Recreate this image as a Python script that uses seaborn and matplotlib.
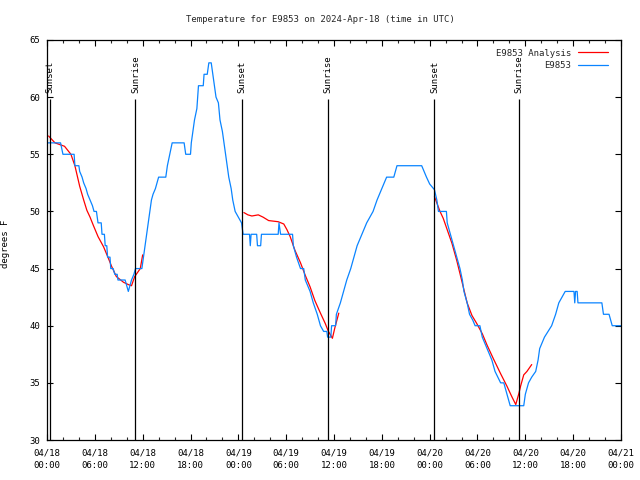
import numpy as np
import pandas as pd
import matplotlib
matplotlib.use("Agg")
import matplotlib.pyplot as plt
from matplotlib.ticker import MultipleLocator
import seaborn as sns

# Hours since 2024-04-18 00:00 UTC and observed temperature (deg F)
obs_hours = [0, 1.7, 2.0, 3.4, 3.5, 4.0, 4.1, 4.4, 4.6, 4.9, 5.1, 5.4, 5.7, 5.9, 6.2, 6.4, 6.8,
             6.9, 7.2, 7.3, 7.5, 7.6, 7.9, 8.0, 8.3, 8.5, 8.8, 8.9, 9.8, 10.0, 10.2, 10.4, 10.6,
             10.9, 11.1, 11.9, 12.1, 12.3, 12.5, 12.7, 12.9, 13.1, 13.3, 13.6, 14.0, 14.9, 15.1,
             15.4, 15.7, 17.2, 17.4, 18.0, 18.1, 18.3, 18.5, 18.8, 19.0, 19.6, 19.7, 20.1, 20.3,
             20.6, 20.8, 21.0, 21.2, 21.5, 21.7, 22.0, 22.2, 22.4, 22.6, 22.8, 23.1, 23.3, 23.6,
             24.0, 24.4, 24.6, 25.4, 25.5, 25.6, 26.3, 26.4, 26.8, 26.9, 29.0, 29.1, 29.3, 30.8,
             30.9, 31.3, 31.8, 32.2, 32.4, 33.0, 33.4, 33.9, 34.3, 34.7, 35.1, 35.2, 35.6, 35.7,
             36.2, 36.3, 36.8, 37.2, 37.6, 38.1, 38.5, 38.9, 39.5, 40.1, 40.9, 41.4, 42.0, 42.6,
             43.5, 43.9, 47.0, 47.6, 48.0, 48.6, 48.9, 49.1, 50.1, 50.2, 50.6, 51.0, 51.4, 51.8,
             52.1, 52.3, 52.7, 53.0, 53.4, 53.7, 54.3, 54.6, 55.2, 55.8, 56.2, 56.9, 57.3, 57.7,
             58.1, 59.8, 60.0, 60.4, 60.8, 61.3, 61.6, 61.8, 62.4, 63.3, 63.8, 64.2, 65.0, 66.1,
             66.2, 66.3, 66.5, 66.6, 69.6, 69.8, 70.5, 70.9, 72.0]
obs_temp = [56, 56, 55, 55, 54, 54, 53.5, 53, 52.5, 52, 51.5, 51, 50.5, 50, 50, 49, 49,
            48, 48, 47, 47, 46, 46, 45, 45, 44.5, 44.5, 44, 44, 43.5, 43, 43.5, 44,
            44.5, 45, 45, 46, 47, 48, 49, 50, 51, 51.5, 52, 53, 53, 54,
            55, 56, 56, 55, 55, 56, 57, 58, 59, 61, 61, 62, 62, 63,
            63, 62, 61, 60, 59.5, 58, 57, 56, 55, 54, 53, 52, 51, 50,
            49.5, 49, 48, 48, 47, 48, 48, 47, 47, 48, 48, 49, 48, 48,
            47, 46, 45, 45, 44, 43, 42, 41, 40, 39.5, 39.5, 39, 39, 40,
            40, 41, 42, 43, 44, 45, 46, 47, 48, 49, 50, 51, 52, 53,
            53, 54, 54, 53, 52.4, 51.9, 51, 50, 50, 49, 48, 47, 46, 45,
            44, 43, 42, 41, 40.5, 40, 40, 39, 38, 37, 36, 35, 35, 34,
            33, 33, 34, 35, 35.5, 36, 37, 38, 39, 40, 41, 42, 43, 43,
            42, 43, 43, 42, 42, 41, 41, 40, 40]

# Analysis runs (three separate pieces)
ana_hours_1 = [0.2, 1.0, 2.2, 3.0, 3.5, 4.1, 4.6, 5.0, 5.4, 5.8, 6.4, 7.1, 7.7, 8.1, 8.7,
               9.6, 10.2, 10.6, 11.0, 11.7, 12.0]
ana_temp_1 = [56.6, 56.0, 55.7, 55.0, 54.0, 52.2, 51.0, 50.1, 49.5, 48.8, 47.8, 46.9, 45.9,
              45.2, 44.3, 43.8, 43.6, 43.5, 44.3, 45.0, 46.2]
ana_hours_2 = [24.7, 25.2, 25.7, 26.5, 27.1, 27.8, 29.0, 29.7, 30.1, 30.5, 31.1, 31.8, 32.4,
               33.0, 33.6, 34.3, 34.9, 35.3, 35.8, 36.1, 36.6]
ana_temp_2 = [49.9, 49.7, 49.6, 49.7, 49.5, 49.2, 49.1, 48.9, 48.4, 47.8, 46.6, 45.5, 44.4,
              43.4, 42.2, 41.1, 40.2, 39.5, 38.9, 39.8, 41.1]
ana_hours_3 = [48.6, 49.3, 49.7, 50.2, 50.8, 51.4, 52.0, 52.7, 53.3, 53.9, 54.6, 55.2, 56.0,
               56.9, 57.7, 58.3, 58.8, 59.2, 59.4, 59.8, 60.2, 60.8]
ana_temp_3 = [51.3, 50.0, 49.4, 48.4, 47.2, 45.7, 44.0, 42.0, 40.9, 40.2, 39.3, 38.3, 37.1,
              35.8, 34.7, 33.8, 33.1, 34.1, 34.7, 35.7, 36.0, 36.6]

# Sunset / sunrise markers
event_hours = [0.42, 11.1, 24.5, 35.2, 48.6, 59.2]
event_labels = ["Sunset", "Sunrise", "Sunset", "Sunrise", "Sunset", "Sunrise"]

x_tick_hours = [0, 6, 12, 18, 24, 30, 36, 42, 48, 54, 60, 66, 72]
x_tick_labels = ["04/18\n00:00", "04/18\n06:00", "04/18\n12:00", "04/18\n18:00",
                 "04/19\n00:00", "04/19\n06:00", "04/19\n12:00", "04/19\n18:00",
                 "04/20\n00:00", "04/20\n06:00", "04/20\n12:00", "04/20\n18:00",
                 "04/21\n00:00"]

sns.set_theme(style="ticks")
plt.rcParams['font.family'] = ['DejaVu Sans Mono']
plt.rcParams['font.size'] = 6.5

df_obs = pd.DataFrame({"hora": obs_hours, "temp": obs_temp})
df_ana = pd.concat([
    pd.DataFrame({"hora": ana_hours_1, "temp": ana_temp_1, "tramo": 1}),
    pd.DataFrame({"hora": ana_hours_2, "temp": ana_temp_2, "tramo": 2}),
    pd.DataFrame({"hora": ana_hours_3, "temp": ana_temp_3, "tramo": 3}),
], ignore_index=True)

fig = plt.figure(figsize=(6.4, 4.8), dpi=100)
ax = fig.add_axes([47 / 640, 1 - 440 / 480, 574 / 640, 400 / 480])

sns.lineplot(data=df_ana, x="hora", y="temp", units="tramo", estimator=None,
             color="#ff0000", lw=0.9, ax=ax)
sns.lineplot(data=df_obs, x="hora", y="temp", estimator=None,
             color="#0a84ff", lw=0.9, ax=ax)

# Lineas de amanecer / atardecer
ax.vlines(event_hours, 30, 59.8, color="black", lw=0.9)
for h, lab in zip(event_hours, event_labels):
    ax.text(h, 60.4, lab, rotation=90, ha="center", va="bottom", fontsize=6.5, color="black")

ax.set_xlim(0, 72)
ax.set_ylim(30, 65)
ax.set_xticks(x_tick_hours)
ax.set_xticklabels(x_tick_labels)
for lab in ax.get_xticklabels():
    lab.set_linespacing(1.5)
ax.xaxis.set_minor_locator(MultipleLocator(2))
ax.set_yticks(range(30, 66, 5))

ax.tick_params(axis="both", which="major", direction="in", length=4, width=0.8,
               top=True, right=True, labelsize=6.5, colors="black")
ax.tick_params(axis="both", which="minor", direction="in", length=2, width=0.8,
               top=True, right=True)
ax.tick_params(axis="x", which="major", pad=6)
ax.tick_params(axis="y", which="major", pad=5)
for sp in ax.spines.values():
    sp.set_color("black")
    sp.set_linewidth(0.9)

ax.set_xlabel("")
ax.set_ylabel("degrees F", fontsize=6.5, color="black")
ax.yaxis.set_label_coords(-0.064, 0.49)

fig.text(0.5, 1 - 20 / 480, "Temperature for E9853 on 2024-Apr-18 (time in UTC)",
         ha="center", va="center", fontsize=6.5)

# Leyenda sin marco, texto a la izquierda de la muestra
from matplotlib.lines import Line2D
handles = [Line2D([], [], color="#ff0000", lw=0.9), Line2D([], [], color="#0a84ff", lw=0.9)]
ax.legend(handles, ["E9853 Analysis", "E9853"], loc="upper right",
          bbox_to_anchor=(0.985, 0.99), frameon=False, markerfirst=False,
          handlelength=3.3, handletextpad=0.8, labelspacing=0.35, borderpad=0,
          fontsize=6.5)

plt.savefig("out.png", dpi=100)
